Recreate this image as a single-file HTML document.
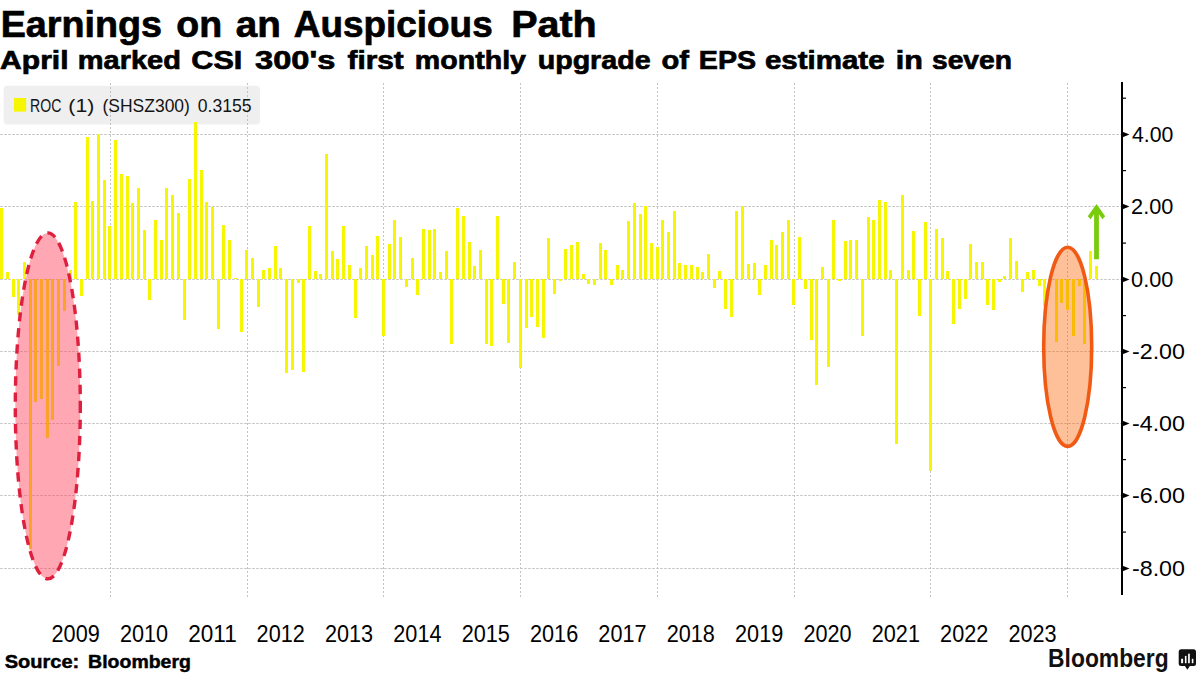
<!DOCTYPE html>
<html><head><meta charset="utf-8"><style>
html,body{margin:0;padding:0;background:#fff;}
body{width:1200px;height:675px;overflow:hidden;position:relative;}
svg{position:absolute;left:0;top:0;}
text{font-family:"Liberation Sans",sans-serif;}
</style></head><body>
<svg width="1200" height="675" viewBox="0 0 1200 675">
<rect x="0" y="0" width="1200" height="675" fill="#fff"/>
<rect x="3.6" y="85.8" width="256.4" height="38.7" rx="4" fill="#efefef"/>
<rect x="14" y="98" width="12.2" height="13.6" fill="#f6f600"/>
<g stroke="#c2c2c2" stroke-width="1" fill="none">
<g stroke-dasharray="2 2" stroke-dashoffset="-1"><line x1="110.5" y1="82" x2="110.5" y2="597"/><line x1="247.5" y1="82" x2="247.5" y2="597"/><line x1="383.5" y1="82" x2="383.5" y2="597"/><line x1="520.5" y1="82" x2="520.5" y2="597"/><line x1="657.5" y1="82" x2="657.5" y2="597"/><line x1="794.5" y1="82" x2="794.5" y2="597"/><line x1="930.5" y1="82" x2="930.5" y2="597"/><line x1="1067.5" y1="82" x2="1067.5" y2="597"/></g>
<g stroke-dasharray="2.4 1.6" stroke-dashoffset="-0.3"><line x1="0" y1="134.5" x2="1121" y2="134.5"/><line x1="0" y1="206.5" x2="1121" y2="206.5"/><line x1="0" y1="279.5" x2="1121" y2="279.5"/><line x1="0" y1="351.5" x2="1121" y2="351.5"/><line x1="0" y1="423.5" x2="1121" y2="423.5"/><line x1="0" y1="495.5" x2="1121" y2="495.5"/><line x1="0" y1="568.5" x2="1121" y2="568.5"/></g>
</g>
<g fill="#f6f600" shape-rendering="crispEdges">
<rect x="0.15" y="207.75" width="3.0" height="71.25"/><rect x="5.85" y="271.77" width="3.0" height="7.23"/><rect x="11.55" y="279.00" width="3.0" height="17.72"/><rect x="17.25" y="279.00" width="3.0" height="36.17"/><rect x="22.95" y="262.00" width="3.0" height="17.00"/><rect x="28.65" y="279.00" width="3.0" height="269.83"/><rect x="34.35" y="279.00" width="3.0" height="122.98"/><rect x="40.05" y="279.00" width="3.0" height="120.08"/><rect x="45.75" y="279.00" width="3.0" height="159.15"/><rect x="51.45" y="279.00" width="3.0" height="141.06"/><rect x="57.15" y="279.00" width="3.0" height="87.17"/><rect x="62.85" y="279.00" width="3.0" height="31.83"/><rect x="68.55" y="269.96" width="3.0" height="9.04"/><rect x="74.25" y="202.32" width="3.0" height="76.68"/><rect x="79.95" y="279.00" width="3.0" height="17.00"/><rect x="85.65" y="136.85" width="3.0" height="142.15"/><rect x="91.35" y="200.51" width="3.0" height="78.49"/><rect x="97.06" y="134.32" width="3.0" height="144.68"/><rect x="102.76" y="179.89" width="3.0" height="99.11"/><rect x="108.46" y="226.19" width="3.0" height="52.81"/><rect x="114.16" y="139.75" width="3.0" height="139.25"/><rect x="119.86" y="173.75" width="3.0" height="105.25"/><rect x="125.56" y="175.55" width="3.0" height="103.45"/><rect x="131.26" y="203.40" width="3.0" height="75.60"/><rect x="136.96" y="187.85" width="3.0" height="91.15"/><rect x="142.66" y="229.81" width="3.0" height="49.19"/><rect x="148.36" y="279.00" width="3.0" height="20.62"/><rect x="154.06" y="219.68" width="3.0" height="59.32"/><rect x="159.76" y="240.30" width="3.0" height="38.70"/><rect x="165.46" y="187.85" width="3.0" height="91.15"/><rect x="171.16" y="194.72" width="3.0" height="84.28"/><rect x="176.86" y="212.81" width="3.0" height="66.19"/><rect x="182.56" y="279.00" width="3.0" height="40.51"/><rect x="188.26" y="179.17" width="3.0" height="99.83"/><rect x="193.96" y="121.66" width="3.0" height="157.34"/><rect x="199.66" y="169.77" width="3.0" height="109.23"/><rect x="205.36" y="201.96" width="3.0" height="77.04"/><rect x="211.06" y="207.02" width="3.0" height="71.98"/><rect x="216.76" y="279.00" width="3.0" height="49.55"/><rect x="222.46" y="225.47" width="3.0" height="53.53"/><rect x="228.16" y="239.94" width="3.0" height="39.06"/><rect x="233.86" y="277.91" width="3.0" height="1.09"/><rect x="239.56" y="279.00" width="3.0" height="53.17"/><rect x="245.26" y="249.70" width="3.0" height="29.30"/><rect x="250.96" y="257.66" width="3.0" height="21.34"/><rect x="256.66" y="279.00" width="3.0" height="28.21"/><rect x="262.36" y="269.96" width="3.0" height="9.04"/><rect x="268.06" y="267.79" width="3.0" height="11.21"/><rect x="273.76" y="246.45" width="3.0" height="32.55"/><rect x="279.46" y="267.79" width="3.0" height="11.21"/><rect x="285.17" y="279.00" width="3.0" height="94.04"/><rect x="290.87" y="279.00" width="3.0" height="91.15"/><rect x="296.57" y="279.00" width="3.0" height="4.34"/><rect x="302.27" y="279.00" width="3.0" height="93.32"/><rect x="307.97" y="226.19" width="3.0" height="52.81"/><rect x="313.67" y="271.04" width="3.0" height="7.96"/><rect x="319.37" y="273.57" width="3.0" height="5.43"/><rect x="325.07" y="154.21" width="3.0" height="124.79"/><rect x="330.77" y="251.15" width="3.0" height="27.85"/><rect x="336.47" y="259.47" width="3.0" height="19.53"/><rect x="342.17" y="225.83" width="3.0" height="53.17"/><rect x="347.87" y="264.53" width="3.0" height="14.47"/><rect x="353.57" y="279.00" width="3.0" height="39.43"/><rect x="359.27" y="267.79" width="3.0" height="11.21"/><rect x="364.97" y="246.45" width="3.0" height="32.55"/><rect x="370.67" y="255.49" width="3.0" height="23.51"/><rect x="376.37" y="235.60" width="3.0" height="43.40"/><rect x="382.07" y="279.00" width="3.0" height="56.79"/><rect x="387.77" y="243.55" width="3.0" height="35.45"/><rect x="393.47" y="219.68" width="3.0" height="59.32"/><rect x="399.17" y="237.40" width="3.0" height="41.60"/><rect x="404.87" y="279.00" width="3.0" height="7.96"/><rect x="410.57" y="257.66" width="3.0" height="21.34"/><rect x="416.27" y="279.00" width="3.0" height="15.55"/><rect x="421.97" y="228.72" width="3.0" height="50.28"/><rect x="427.67" y="229.81" width="3.0" height="49.19"/><rect x="433.37" y="228.72" width="3.0" height="50.28"/><rect x="439.07" y="271.77" width="3.0" height="7.23"/><rect x="444.77" y="250.79" width="3.0" height="28.21"/><rect x="450.47" y="279.00" width="3.0" height="65.11"/><rect x="456.17" y="208.47" width="3.0" height="70.53"/><rect x="461.87" y="215.70" width="3.0" height="63.30"/><rect x="467.57" y="241.74" width="3.0" height="37.26"/><rect x="473.27" y="265.98" width="3.0" height="13.02"/><rect x="478.98" y="249.70" width="3.0" height="29.30"/><rect x="484.68" y="279.00" width="3.0" height="65.11"/><rect x="490.38" y="279.00" width="3.0" height="66.91"/><rect x="496.08" y="215.70" width="3.0" height="63.30"/><rect x="501.78" y="279.00" width="3.0" height="24.96"/><rect x="507.48" y="279.00" width="3.0" height="64.38"/><rect x="513.18" y="262.36" width="3.0" height="16.64"/><rect x="518.88" y="279.00" width="3.0" height="88.98"/><rect x="524.58" y="279.00" width="3.0" height="48.83"/><rect x="530.28" y="279.00" width="3.0" height="37.62"/><rect x="535.98" y="279.00" width="3.0" height="48.11"/><rect x="541.68" y="279.00" width="3.0" height="58.96"/><rect x="547.38" y="238.49" width="3.0" height="40.51"/><rect x="553.08" y="279.00" width="3.0" height="15.19"/><rect x="558.78" y="279.00" width="3.0" height="1.81"/><rect x="564.48" y="248.62" width="3.0" height="30.38"/><rect x="570.18" y="245.36" width="3.0" height="33.64"/><rect x="575.88" y="241.74" width="3.0" height="37.26"/><rect x="581.58" y="274.30" width="3.0" height="4.70"/><rect x="587.28" y="279.00" width="3.0" height="5.43"/><rect x="592.98" y="279.00" width="3.0" height="5.79"/><rect x="598.68" y="242.83" width="3.0" height="36.17"/><rect x="604.38" y="249.70" width="3.0" height="29.30"/><rect x="610.08" y="279.00" width="3.0" height="6.15"/><rect x="615.78" y="264.89" width="3.0" height="14.11"/><rect x="621.48" y="269.96" width="3.0" height="9.04"/><rect x="627.18" y="221.13" width="3.0" height="57.87"/><rect x="632.88" y="203.40" width="3.0" height="75.60"/><rect x="638.58" y="213.89" width="3.0" height="65.11"/><rect x="644.28" y="205.57" width="3.0" height="73.43"/><rect x="649.98" y="242.83" width="3.0" height="36.17"/><rect x="655.68" y="247.17" width="3.0" height="31.83"/><rect x="661.38" y="219.68" width="3.0" height="59.32"/><rect x="667.09" y="232.34" width="3.0" height="46.66"/><rect x="672.79" y="210.64" width="3.0" height="68.36"/><rect x="678.49" y="263.09" width="3.0" height="15.91"/><rect x="684.19" y="264.53" width="3.0" height="14.47"/><rect x="689.89" y="264.53" width="3.0" height="14.47"/><rect x="695.59" y="267.43" width="3.0" height="11.57"/><rect x="701.29" y="271.77" width="3.0" height="7.23"/><rect x="706.99" y="253.68" width="3.0" height="25.32"/><rect x="712.69" y="279.00" width="3.0" height="9.40"/><rect x="718.39" y="271.04" width="3.0" height="7.96"/><rect x="724.09" y="279.00" width="3.0" height="30.02"/><rect x="729.79" y="279.00" width="3.0" height="38.34"/><rect x="735.49" y="211.00" width="3.0" height="68.00"/><rect x="741.19" y="205.94" width="3.0" height="73.06"/><rect x="746.89" y="264.17" width="3.0" height="14.83"/><rect x="752.59" y="263.09" width="3.0" height="15.91"/><rect x="758.29" y="279.00" width="3.0" height="15.55"/><rect x="763.99" y="264.89" width="3.0" height="14.11"/><rect x="769.69" y="239.94" width="3.0" height="39.06"/><rect x="775.39" y="245.00" width="3.0" height="34.00"/><rect x="781.09" y="231.98" width="3.0" height="47.02"/><rect x="786.79" y="219.68" width="3.0" height="59.32"/><rect x="792.49" y="279.00" width="3.0" height="26.40"/><rect x="798.19" y="236.68" width="3.0" height="42.32"/><rect x="803.89" y="279.00" width="3.0" height="9.77"/><rect x="809.59" y="279.00" width="3.0" height="61.13"/><rect x="815.29" y="279.00" width="3.0" height="106.34"/><rect x="820.99" y="267.43" width="3.0" height="11.57"/><rect x="826.69" y="279.00" width="3.0" height="88.25"/><rect x="832.39" y="220.40" width="3.0" height="58.60"/><rect x="838.09" y="279.00" width="3.0" height="2.17"/><rect x="843.79" y="240.66" width="3.0" height="38.34"/><rect x="849.49" y="239.94" width="3.0" height="39.06"/><rect x="855.20" y="240.30" width="3.0" height="38.70"/><rect x="860.90" y="279.00" width="3.0" height="56.79"/><rect x="866.60" y="216.79" width="3.0" height="62.21"/><rect x="872.30" y="220.40" width="3.0" height="58.60"/><rect x="878.00" y="199.79" width="3.0" height="79.21"/><rect x="883.70" y="201.60" width="3.0" height="77.40"/><rect x="889.40" y="269.96" width="3.0" height="9.04"/><rect x="895.10" y="279.00" width="3.0" height="165.30"/><rect x="900.80" y="194.72" width="3.0" height="84.28"/><rect x="906.50" y="269.96" width="3.0" height="9.04"/><rect x="912.20" y="230.53" width="3.0" height="48.47"/><rect x="917.90" y="279.00" width="3.0" height="36.89"/><rect x="923.60" y="221.85" width="3.0" height="57.15"/><rect x="929.30" y="279.00" width="3.0" height="192.06"/><rect x="935.00" y="228.72" width="3.0" height="50.28"/><rect x="940.70" y="238.49" width="3.0" height="40.51"/><rect x="946.40" y="271.04" width="3.0" height="7.96"/><rect x="952.10" y="279.00" width="3.0" height="45.21"/><rect x="957.80" y="279.00" width="3.0" height="30.02"/><rect x="963.50" y="279.00" width="3.0" height="20.26"/><rect x="969.20" y="243.55" width="3.0" height="35.45"/><rect x="974.90" y="262.36" width="3.0" height="16.64"/><rect x="980.60" y="262.36" width="3.0" height="16.64"/><rect x="986.30" y="279.00" width="3.0" height="26.40"/><rect x="992.00" y="279.00" width="3.0" height="31.11"/><rect x="997.70" y="279.00" width="3.0" height="2.53"/><rect x="1003.40" y="276.11" width="3.0" height="2.89"/><rect x="1009.10" y="238.49" width="3.0" height="40.51"/><rect x="1014.80" y="260.55" width="3.0" height="18.45"/><rect x="1020.50" y="279.00" width="3.0" height="12.66"/><rect x="1026.20" y="271.77" width="3.0" height="7.23"/><rect x="1031.90" y="269.96" width="3.0" height="9.04"/><rect x="1037.60" y="279.00" width="3.0" height="7.23"/><rect x="1043.30" y="279.00" width="3.0" height="27.13"/><rect x="1054.71" y="279.00" width="3.0" height="62.94"/><rect x="1060.41" y="279.00" width="3.0" height="24.23"/><rect x="1066.11" y="279.00" width="3.0" height="31.11"/><rect x="1071.81" y="279.00" width="3.0" height="57.15"/><rect x="1077.51" y="279.00" width="3.0" height="7.23"/><rect x="1083.21" y="279.00" width="3.0" height="65.11"/><rect x="1088.91" y="250.79" width="3.0" height="28.21"/><rect x="1094.61" y="266.34" width="3.0" height="12.66"/>
</g>
<ellipse cx="47.8" cy="405.9" rx="32.5" ry="173" fill="#ff3e58" fill-opacity="0.45" stroke="#de1f3e" stroke-width="3.4" stroke-dasharray="9.3 6.7" stroke-dashoffset="2"/>
<ellipse cx="1067.7" cy="346.8" rx="24" ry="99.6" fill="#fd690a" fill-opacity="0.42" stroke="#f05a14" stroke-width="3.6"/>
<path fill="#79cc0c" d="M1096.5 204 L1105.2 216.3 L1102.4 219.2 L1098.9 214.3 L1098.9 259.2 L1094.1 259.2 L1094.1 214.3 L1090.6 219.2 L1087.8 216.3 Z"/>
<rect x="1121" y="82" width="2" height="513" fill="#000"/>
<g fill="#000"><rect x="1122" y="97.6" width="4" height="1.2"/><path d="M1122 131.5 L1129.5 134.5 L1122 137.5Z"/><rect x="1122" y="170.0" width="4" height="1.2"/><path d="M1122 203.5 L1129.5 206.5 L1122 209.5Z"/><rect x="1122" y="242.5" width="4" height="1.2"/><path d="M1122 276.5 L1129.5 279.5 L1122 282.5Z"/><rect x="1122" y="315.0" width="4" height="1.2"/><path d="M1122 348.5 L1129.5 351.5 L1122 354.5Z"/><rect x="1122" y="387.0" width="4" height="1.2"/><path d="M1122 420.5 L1129.5 423.5 L1122 426.5Z"/><rect x="1122" y="459.0" width="4" height="1.2"/><path d="M1122 492.5 L1129.5 495.5 L1122 498.5Z"/><rect x="1122" y="531.5" width="4" height="1.2"/><path d="M1122 565.5 L1129.5 568.5 L1122 571.5Z"/></g>
<text transform="translate(0.71 36.8) scale(0.9975 1)" font-weight="bold" font-size="37.8" fill="#000" stroke="#000" stroke-width="0.7">Earnings</text><text transform="translate(176.31 36.8) scale(0.9930 1)" font-weight="bold" font-size="37.8" fill="#000" stroke="#000" stroke-width="0.7">on</text><text transform="translate(235.78 36.8) scale(1.0220 1)" font-weight="bold" font-size="37.8" fill="#000" stroke="#000" stroke-width="0.7">an</text><text transform="translate(293.72 36.8) scale(0.9767 1)" font-weight="bold" font-size="37.8" fill="#000" stroke="#000" stroke-width="0.7">Auspicious</text><text transform="translate(511.21 36.8) scale(1.0436 1)" font-weight="bold" font-size="37.8" fill="#000" stroke="#000" stroke-width="0.7">Path</text><text transform="translate(0.12 68.5) scale(1.1336 1)" font-weight="bold" font-size="26.5" fill="#000" stroke="#000" stroke-width="0.7">April</text><text transform="translate(77.81 68.5) scale(1.0934 1)" font-weight="bold" font-size="26.5" fill="#000" stroke="#000" stroke-width="0.7">marked</text><text transform="translate(191.35 68.5) scale(1.1548 1)" font-weight="bold" font-size="26.5" fill="#000" stroke="#000" stroke-width="0.7">CSI</text><text transform="translate(255.00 68.5) scale(1.2308 1)" font-weight="bold" font-size="26.5" fill="#000" stroke="#000" stroke-width="0.7">300's</text><text transform="translate(347.50 68.5) scale(1.1250 1)" font-weight="bold" font-size="26.5" fill="#000" stroke="#000" stroke-width="0.7">first</text><text transform="translate(414.84 68.5) scale(1.0792 1)" font-weight="bold" font-size="26.5" fill="#000" stroke="#000" stroke-width="0.7">monthly</text><text transform="translate(537.67 68.5) scale(1.0801 1)" font-weight="bold" font-size="26.5" fill="#000" stroke="#000" stroke-width="0.7">upgrade</text><text transform="translate(661.40 68.5) scale(1.1000 1)" font-weight="bold" font-size="26.5" fill="#000" stroke="#000" stroke-width="0.7">of</text><text transform="translate(698.84 68.5) scale(1.0800 1)" font-weight="bold" font-size="26.5" fill="#000" stroke="#000" stroke-width="0.7">EPS</text><text transform="translate(764.89 68.5) scale(1.1132 1)" font-weight="bold" font-size="26.5" fill="#000" stroke="#000" stroke-width="0.7">estimate</text><text transform="translate(895.70 68.5) scale(1.1500 1)" font-weight="bold" font-size="26.5" fill="#000" stroke="#000" stroke-width="0.7">in</text><text transform="translate(931.93 68.5) scale(1.0658 1)" font-weight="bold" font-size="26.5" fill="#000" stroke="#000" stroke-width="0.7">seven</text><text transform="translate(30.03 111.5) scale(0.7744 1)" font-weight="normal" font-size="18.2" fill="#141414">ROC</text><text transform="translate(68.33 111.5) scale(1.1667 1)" font-weight="normal" font-size="18.2" fill="#141414">(1)</text><text transform="translate(102.54 111.5) scale(0.9607 1)" font-weight="normal" font-size="18.2" fill="#141414">(SHSZ300)</text><text transform="translate(197.80 111.5) scale(0.9673 1)" font-weight="normal" font-size="18.2" fill="#141414">0.3155</text><text transform="translate(4.67 668.1) scale(1.1328 1)" font-weight="bold" font-size="17.7" fill="#000" stroke="#000" stroke-width="0.45">Source:</text><text transform="translate(88.10 668.1) scale(1.1011 1)" font-weight="bold" font-size="17.7" fill="#000" stroke="#000" stroke-width="0.45">Bloomberg</text><text transform="translate(1048.10 667.0) scale(0.8962 1)" font-weight="bold" font-size="25.5" fill="#111">Bloomberg</text><text transform="translate(51.57 642.0) scale(0.9300 1)" font-weight="normal" font-size="23.3" fill="#000">2009</text><text transform="translate(119.92 642.0) scale(0.9300 1)" font-weight="normal" font-size="23.3" fill="#000">2010</text><text transform="translate(188.23 642.0) scale(0.9688 1)" font-weight="normal" font-size="23.3" fill="#000">2011</text><text transform="translate(256.62 642.0) scale(0.9300 1)" font-weight="normal" font-size="23.3" fill="#000">2012</text><text transform="translate(324.97 642.0) scale(0.9300 1)" font-weight="normal" font-size="23.3" fill="#000">2013</text><text transform="translate(393.32 642.0) scale(0.9300 1)" font-weight="normal" font-size="23.3" fill="#000">2014</text><text transform="translate(461.67 642.0) scale(0.9300 1)" font-weight="normal" font-size="23.3" fill="#000">2015</text><text transform="translate(530.02 642.0) scale(0.9300 1)" font-weight="normal" font-size="23.3" fill="#000">2016</text><text transform="translate(598.37 642.0) scale(0.9300 1)" font-weight="normal" font-size="23.3" fill="#000">2017</text><text transform="translate(666.72 642.0) scale(0.9300 1)" font-weight="normal" font-size="23.3" fill="#000">2018</text><text transform="translate(735.07 642.0) scale(0.9300 1)" font-weight="normal" font-size="23.3" fill="#000">2019</text><text transform="translate(803.42 642.0) scale(0.9300 1)" font-weight="normal" font-size="23.3" fill="#000">2020</text><text transform="translate(871.77 642.0) scale(0.9300 1)" font-weight="normal" font-size="23.3" fill="#000">2021</text><text transform="translate(940.12 642.0) scale(0.9300 1)" font-weight="normal" font-size="23.3" fill="#000">2022</text><text transform="translate(1008.47 642.0) scale(0.9300 1)" font-weight="normal" font-size="23.3" fill="#000">2023</text><text transform="translate(1132.00 142.4) scale(0.9318 1)" font-weight="normal" font-size="22.8" fill="#000">4.00</text><text transform="translate(1131.05 214.4) scale(0.9535 1)" font-weight="normal" font-size="22.8" fill="#000">2.00</text><text transform="translate(1131.05 287.4) scale(0.9535 1)" font-weight="normal" font-size="22.8" fill="#000">0.00</text><text transform="translate(1131.98 359.4) scale(1.0200 1)" font-weight="normal" font-size="22.8" fill="#000">-2.00</text><text transform="translate(1131.98 431.4) scale(1.0200 1)" font-weight="normal" font-size="22.8" fill="#000">-4.00</text><text transform="translate(1131.98 503.4) scale(1.0200 1)" font-weight="normal" font-size="22.8" fill="#000">-6.00</text><text transform="translate(1131.98 576.4) scale(1.0200 1)" font-weight="normal" font-size="22.8" fill="#000">-8.00</text>
<g>
<rect x="1178.7" y="649.3" width="17.3" height="16.6" rx="2.5" fill="#111"/>
<path d="M1184.6 665.5 L1187.4 669.7 L1190.2 665.5 Z" fill="#111"/>
<g fill="#fff">
<rect x="1181.1" y="658.8" width="2" height="4.4"/>
<rect x="1184.9" y="655.9" width="1.6" height="7.3"/>
<rect x="1188.1" y="653.7" width="1.7" height="9.5"/>
<rect x="1191.8" y="658.8" width="1.6" height="4.4"/>
</g>
</g>
</svg>
</body></html>
